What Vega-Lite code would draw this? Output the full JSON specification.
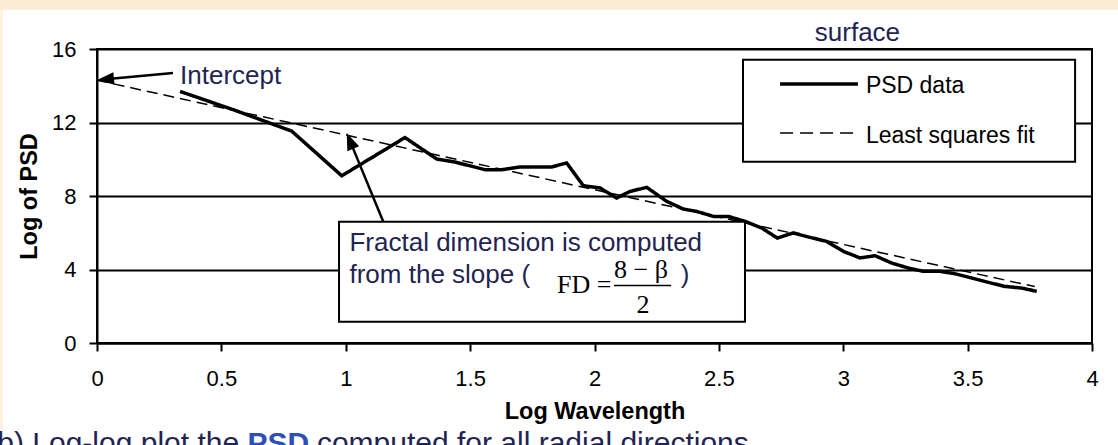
{
  "$schema": "https://vega.github.io/schema/vega-lite/v6.json",
  "width": 995,
  "height": 294,
  "autosize": {"type": "none"},
  "padding": {"left": 97, "top": 49, "right": 26, "bottom": 102},
  "background": "#ffffff",
  "resolve": {"axis": {"x": "independent", "y": "independent"}},
  "config": {
    "font": "Liberation Sans",
    "view": {"stroke": "#000000", "strokeWidth": 2, "fill": "#ffffff"},
    "axis": {
      "domainColor": "#000000", "domainWidth": 2,
      "tickColor": "#000000", "tickWidth": 2, "tickSize": 8,
      "labelColor": "#000000", "labelFont": "Liberation Sans", "labelFontSize": 22,
      "labelFlush": false, "labelOverlap": false,
      "titleColor": "#000000", "titleFont": "Liberation Sans", "titleFontSize": 23.5, "titleFontWeight": "bold",
      "gridColor": "#000000", "gridWidth": 2, "gridOpacity": 1
    }
  },
  "datasets": {
    "psd": [
      {"series": "PSD data", "logw": 0.334, "logpsd": 13.69},
      {"series": "PSD data", "logw": 0.547, "logpsd": 12.70},
      {"series": "PSD data", "logw": 0.783, "logpsd": 11.53},
      {"series": "PSD data", "logw": 0.984, "logpsd": 9.10},
      {"series": "PSD data", "logw": 1.238, "logpsd": 11.18},
      {"series": "PSD data", "logw": 1.366, "logpsd": 10.01},
      {"series": "PSD data", "logw": 1.439, "logpsd": 9.85},
      {"series": "PSD data", "logw": 1.560, "logpsd": 9.43},
      {"series": "PSD data", "logw": 1.627, "logpsd": 9.43},
      {"series": "PSD data", "logw": 1.700, "logpsd": 9.58},
      {"series": "PSD data", "logw": 1.828, "logpsd": 9.58},
      {"series": "PSD data", "logw": 1.888, "logpsd": 9.80},
      {"series": "PSD data", "logw": 1.955, "logpsd": 8.56},
      {"series": "PSD data", "logw": 2.022, "logpsd": 8.44},
      {"series": "PSD data", "logw": 2.089, "logpsd": 7.89},
      {"series": "PSD data", "logw": 2.143, "logpsd": 8.25},
      {"series": "PSD data", "logw": 2.210, "logpsd": 8.47},
      {"series": "PSD data", "logw": 2.290, "logpsd": 7.71},
      {"series": "PSD data", "logw": 2.357, "logpsd": 7.29},
      {"series": "PSD data", "logw": 2.411, "logpsd": 7.16},
      {"series": "PSD data", "logw": 2.478, "logpsd": 6.89},
      {"series": "PSD data", "logw": 2.538, "logpsd": 6.89},
      {"series": "PSD data", "logw": 2.605, "logpsd": 6.62},
      {"series": "PSD data", "logw": 2.672, "logpsd": 6.26},
      {"series": "PSD data", "logw": 2.735, "logpsd": 5.71},
      {"series": "PSD data", "logw": 2.799, "logpsd": 5.99},
      {"series": "PSD data", "logw": 2.866, "logpsd": 5.75},
      {"series": "PSD data", "logw": 2.933, "logpsd": 5.53},
      {"series": "PSD data", "logw": 3.000, "logpsd": 4.99},
      {"series": "PSD data", "logw": 3.067, "logpsd": 4.63},
      {"series": "PSD data", "logw": 3.128, "logpsd": 4.75},
      {"series": "PSD data", "logw": 3.195, "logpsd": 4.35},
      {"series": "PSD data", "logw": 3.262, "logpsd": 4.08},
      {"series": "PSD data", "logw": 3.322, "logpsd": 3.90},
      {"series": "PSD data", "logw": 3.389, "logpsd": 3.90},
      {"series": "PSD data", "logw": 3.449, "logpsd": 3.77},
      {"series": "PSD data", "logw": 3.516, "logpsd": 3.54},
      {"series": "PSD data", "logw": 3.583, "logpsd": 3.30},
      {"series": "PSD data", "logw": 3.650, "logpsd": 3.08},
      {"series": "PSD data", "logw": 3.717, "logpsd": 2.99},
      {"series": "PSD data", "logw": 3.778, "logpsd": 2.81},
      {"series": "Least squares fit", "logw": 0.0, "logpsd": 14.30},
      {"series": "Least squares fit", "logw": 3.77, "logpsd": 3.07}
    ]
  },
  "layer": [
    {
      "data": {"values": [{}]},
      "mark": {"type": "rect", "fill": "#FCEBD3", "clip": false},
      "encoding": {
        "x": {"datum": -0.4, "type": "quantitative", "axis": null},
        "x2": {"datum": 4.2},
        "y": {"datum": 18.14, "type": "quantitative", "axis": null},
        "y2": {"datum": 18.8}
      }
    },
    {
      "data": {"values": [{}]},
      "mark": {"type": "rect", "fill": "#FDF1E0", "clip": false},
      "encoding": {
        "x": {"datum": -0.4, "type": "quantitative", "axis": null},
        "x2": {"datum": -0.378},
        "y": {"datum": 18.14, "type": "quantitative", "axis": null},
        "y2": {"datum": -6.2}
      }
    },
    {
      "data": {"name": "psd"},
      "mark": {"type": "line", "color": "#000000", "clip": false},
      "encoding": {
        "x": {
          "field": "logw", "type": "quantitative",
          "scale": {"domain": [0, 4], "nice": false, "zero": false},
          "axis": {"title": "Log Wavelength", "values": [0, 0.5, 1, 1.5, 2, 2.5, 3, 3.5, 4], "format": "~g", "labelPadding": 17, "titlePadding": 10, "grid": false}
        },
        "y": {
          "field": "logpsd", "type": "quantitative",
          "scale": {"domain": [0, 16], "nice": false, "zero": false},
          "axis": {"title": "Log of PSD", "values": [0, 4, 8, 12, 16], "labelPadding": 13, "titlePadding": 10, "grid": true}
        },
        "detail": {"field": "series", "type": "nominal"},
        "strokeDash": {"field": "series", "type": "nominal", "scale": {"domain": ["PSD data", "Least squares fit"], "range": [[1, 0], [11, 6]]}, "legend": null},
        "strokeWidth": {"field": "series", "type": "nominal", "scale": {"domain": ["PSD data", "Least squares fit"], "range": [3.5, 1.5]}, "legend": null}
      }
    },
    {
      "data": {"values": [{}]},
      "mark": {"type": "rule", "color": "#000000", "strokeWidth": 2.5, "clip": false},
      "encoding": {
        "x": {"datum": 0.3055, "type": "quantitative", "axis": null},
        "x2": {"datum": 0.034},
        "y": {"datum": 14.69, "type": "quantitative", "axis": null},
        "y2": {"datum": 14.35}
      }
    },
    {
      "data": {"values": [{}]},
      "mark": {"type": "rule", "color": "#000000", "strokeWidth": 2.5, "clip": false},
      "encoding": {
        "x": {"datum": 1.151, "type": "quantitative", "axis": null},
        "x2": {"datum": 1.017},
        "y": {"datum": 6.60, "type": "quantitative", "axis": null},
        "y2": {"datum": 11.0}
      }
    },
    {
      "data": {"values": [{}]},
      "mark": {"type": "point", "shape": "M0,-1L0.75,1L-0.75,1Z", "filled": true, "color": "#000000", "opacity": 1, "size": 289, "angle": 264.6, "clip": false},
      "encoding": {
        "x": {"datum": 0.034, "type": "quantitative", "axis": null},
        "y": {"datum": 14.35, "type": "quantitative", "axis": null}
      }
    },
    {
      "data": {"values": [{}]},
      "mark": {"type": "point", "shape": "M0,-1L0.75,1L-0.75,1Z", "filled": true, "color": "#000000", "opacity": 1, "size": 289, "angle": 337.6, "clip": false},
      "encoding": {
        "x": {"datum": 1.017, "type": "quantitative", "axis": null},
        "y": {"datum": 11.0, "type": "quantitative", "axis": null}
      }
    },
    {
      "data": {"values": [{}]},
      "mark": {"type": "rect", "fill": "#ffffff", "stroke": "#000000", "strokeWidth": 2, "clip": false},
      "encoding": {
        "x": {"datum": 2.597, "type": "quantitative", "axis": null},
        "x2": {"datum": 3.932},
        "y": {"datum": 15.42, "type": "quantitative", "axis": null},
        "y2": {"datum": 9.87}
      }
    },
    {
      "data": {"values": [{}]},
      "mark": {"type": "rule", "color": "#000000", "strokeWidth": 3.5, "clip": false},
      "encoding": {
        "x": {"datum": 2.746, "type": "quantitative", "axis": null},
        "x2": {"datum": 3.059},
        "y": {"datum": 14.10, "type": "quantitative", "axis": null}
      }
    },
    {
      "data": {"values": [{}]},
      "mark": {"type": "rule", "color": "#000000", "strokeWidth": 1.5, "strokeDash": [13, 7], "clip": false},
      "encoding": {
        "x": {"datum": 2.746, "type": "quantitative", "axis": null},
        "x2": {"datum": 3.059},
        "y": {"datum": 11.43, "type": "quantitative", "axis": null}
      }
    },
    {
      "data": {"values": [{}]},
      "mark": {"type": "rect", "fill": "#ffffff", "stroke": "#000000", "strokeWidth": 2, "clip": false},
      "encoding": {
        "x": {"datum": 0.973, "type": "quantitative", "axis": null},
        "x2": {"datum": 2.605},
        "y": {"datum": 6.60, "type": "quantitative", "axis": null},
        "y2": {"datum": 1.16}
      }
    },
    {
      "data": {"values": [{}]},
      "mark": {"type": "rule", "color": "#000000", "strokeWidth": 1.3, "clip": false},
      "encoding": {
        "x": {"datum": 2.078, "type": "quantitative", "axis": null},
        "x2": {"datum": 2.308},
        "y": {"datum": 3.13, "type": "quantitative", "axis": null}
      }
    },
    {
      "data": {"values": [{}]},
      "mark": {"type": "text", "text": "Intercept", "font": "Liberation Sans", "fontSize": 26, "color": "#1F2452", "align": "left", "baseline": "alphabetic", "clip": false},
      "encoding": {
        "x": {"datum": 0.334, "type": "quantitative", "axis": null},
        "y": {"datum": 14.11, "type": "quantitative", "axis": null}
      }
    },
    {
      "data": {"values": [{}]},
      "mark": {"type": "text", "text": "Fractal dimension is computed", "font": "Liberation Sans", "fontSize": 26, "color": "#1F2452", "align": "left", "baseline": "alphabetic", "clip": false},
      "encoding": {
        "x": {"datum": 1.015, "type": "quantitative", "axis": null},
        "y": {"datum": 5.0, "type": "quantitative", "axis": null}
      }
    },
    {
      "data": {"values": [{}]},
      "mark": {"type": "text", "text": "from the slope (", "font": "Liberation Sans", "fontSize": 26, "color": "#1F2452", "align": "left", "baseline": "alphabetic", "clip": false},
      "encoding": {
        "x": {"datum": 1.015, "type": "quantitative", "axis": null},
        "y": {"datum": 3.28, "type": "quantitative", "axis": null}
      }
    },
    {
      "data": {"values": [{}]},
      "mark": {"type": "text", "text": ")", "font": "Liberation Sans", "fontSize": 26, "color": "#1F2452", "align": "center", "baseline": "alphabetic", "clip": false},
      "encoding": {
        "x": {"datum": 2.364, "type": "quantitative", "axis": null},
        "y": {"datum": 3.28, "type": "quantitative", "axis": null}
      }
    },
    {
      "data": {"values": [{}]},
      "mark": {"type": "text", "text": "FD =", "font": "Liberation Serif", "fontSize": 26, "color": "#000000", "align": "left", "baseline": "alphabetic", "clip": false},
      "encoding": {
        "x": {"datum": 1.849, "type": "quantitative", "axis": null},
        "y": {"datum": 2.72, "type": "quantitative", "axis": null}
      }
    },
    {
      "data": {"values": [{}]},
      "mark": {"type": "text", "text": "8 − β", "font": "Liberation Serif", "fontSize": 26, "color": "#000000", "align": "center", "baseline": "alphabetic", "clip": false},
      "encoding": {
        "x": {"datum": 2.187, "type": "quantitative", "axis": null},
        "y": {"datum": 3.54, "type": "quantitative", "axis": null}
      }
    },
    {
      "data": {"values": [{}]},
      "mark": {"type": "text", "text": "2", "font": "Liberation Serif", "fontSize": 26, "color": "#000000", "align": "center", "baseline": "alphabetic", "clip": false},
      "encoding": {
        "x": {"datum": 2.195, "type": "quantitative", "axis": null},
        "y": {"datum": 1.63, "type": "quantitative", "axis": null}
      }
    },
    {
      "data": {"values": [{}]},
      "mark": {"type": "text", "text": "PSD data", "font": "Liberation Sans", "fontSize": 23, "color": "#000000", "align": "left", "baseline": "alphabetic", "clip": false},
      "encoding": {
        "x": {"datum": 3.091, "type": "quantitative", "axis": null},
        "y": {"datum": 13.61, "type": "quantitative", "axis": null}
      }
    },
    {
      "data": {"values": [{}]},
      "mark": {"type": "text", "text": "Least squares fit", "font": "Liberation Sans", "fontSize": 23, "color": "#000000", "align": "left", "baseline": "alphabetic", "clip": false},
      "encoding": {
        "x": {"datum": 3.091, "type": "quantitative", "axis": null},
        "y": {"datum": 10.88, "type": "quantitative", "axis": null}
      }
    },
    {
      "data": {"values": [{}]},
      "mark": {"type": "text", "text": "surface", "font": "Liberation Sans", "fontSize": 26, "color": "#1F2452", "align": "center", "baseline": "alphabetic", "clip": false},
      "encoding": {
        "x": {"datum": 3.057, "type": "quantitative", "axis": null},
        "y": {"datum": 16.45, "type": "quantitative", "axis": null}
      }
    },
    {
      "data": {"values": [{}]},
      "mark": {"type": "text", "text": "(b) Log-log plot the", "font": "Liberation Sans", "fontSize": 30, "color": "#1F2452", "align": "left", "baseline": "alphabetic", "clip": false},
      "encoding": {
        "x": {"datum": -0.441, "type": "quantitative", "axis": null},
        "y": {"datum": -6.0, "type": "quantitative", "axis": null}
      }
    },
    {
      "data": {"values": [{}]},
      "mark": {"type": "text", "text": "PSD", "font": "Liberation Sans", "fontSize": 30, "fontWeight": "bold", "color": "#2F4FB5", "align": "left", "baseline": "alphabetic", "clip": false},
      "encoding": {
        "x": {"datum": 0.605, "type": "quantitative", "axis": null},
        "y": {"datum": -6.0, "type": "quantitative", "axis": null}
      }
    },
    {
      "data": {"values": [{}]},
      "mark": {"type": "text", "text": "computed for all radial directions", "font": "Liberation Sans", "fontSize": 30, "color": "#1F2452", "align": "left", "baseline": "alphabetic", "clip": false},
      "encoding": {
        "x": {"datum": 0.884, "type": "quantitative", "axis": null},
        "y": {"datum": -6.0, "type": "quantitative", "axis": null}
      }
    }
  ]
}
